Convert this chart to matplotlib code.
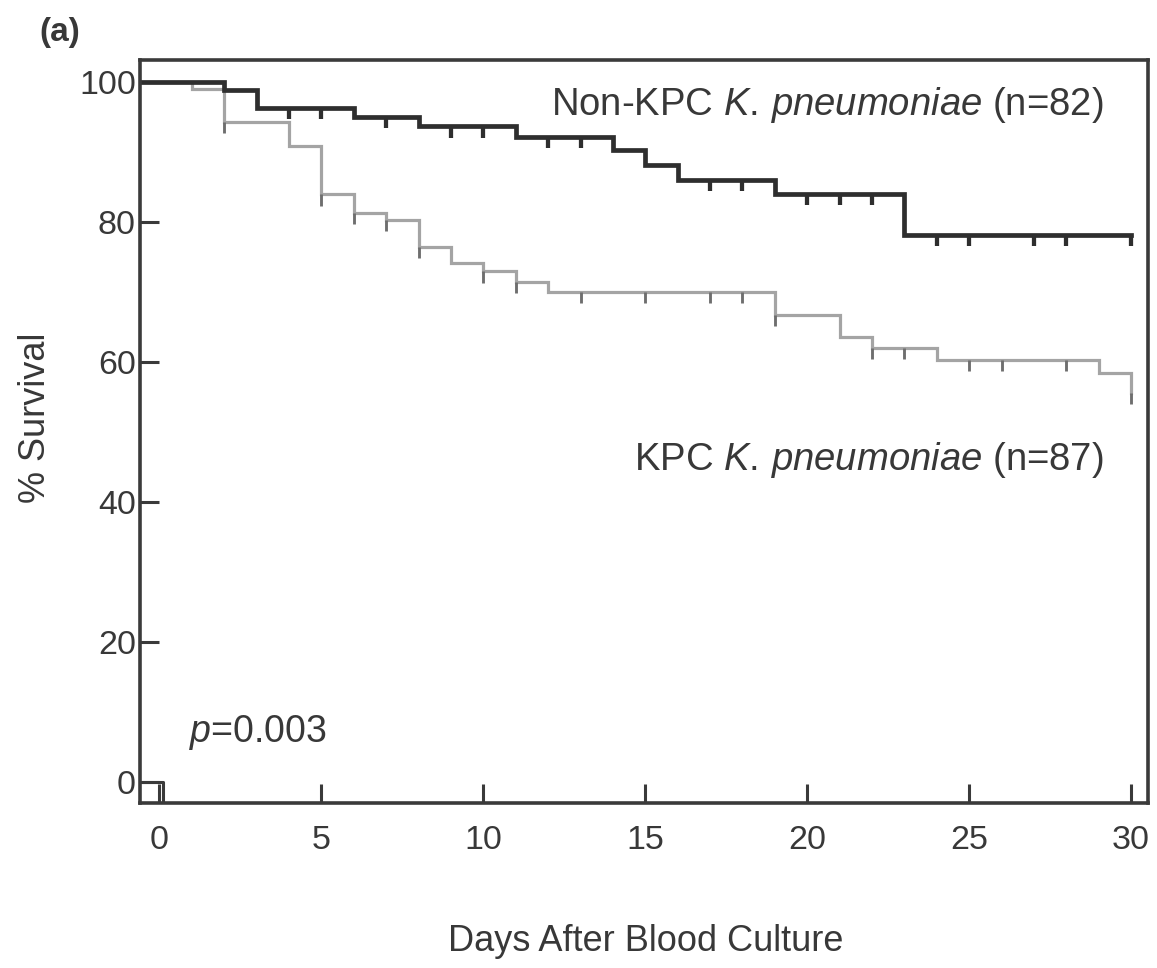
import numpy as np
import matplotlib.pyplot as plt

plt.rcParams['font.family'] = ['Liberation Sans', 'DejaVu Sans']
plt.rcParams['mathtext.fontset'] = 'custom'
plt.rcParams['mathtext.rm'] = 'Liberation Sans'
plt.rcParams['mathtext.it'] = 'Liberation Sans:italic'

# Non-KPC K. pneumoniae (n=82): step times [days] and % survival after each step
days_nonkpc = [0, 2, 3, 6, 8, 11, 14, 15, 16, 19, 23, 30]
surv_nonkpc = [100, 98.8, 96.3, 95.0, 93.6, 92.1, 90.3, 88.1, 86.0, 84.0, 78.1, 78.1]
censor_nonkpc = [4, 5, 7, 9, 10, 12, 13, 17, 18, 20, 21, 22, 24, 25, 27, 28, 30]

# KPC K. pneumoniae (n=87)
days_kpc = [0, 1, 2, 4, 5, 6, 7, 8, 9, 10, 11, 12, 19, 21, 22, 24, 29, 30]
surv_kpc = [100, 98.9, 94.3, 90.8, 83.9, 81.3, 80.3, 76.4, 74.1, 72.9, 71.4, 70.0,
            66.7, 63.6, 62.0, 60.3, 58.4, 55.6]
censor_kpc = [2, 5, 6, 7, 8, 10, 11, 13, 15, 17, 18, 19, 22, 23, 25, 26, 28, 30]

# small stray step at the origin in the original figure
stray_x = [-0.6, 0.1, 0.1]
stray_y = [0, 0, -3]

x_ticks = [0, 5, 10, 15, 20, 25, 30]
y_ticks = [0, 20, 40, 60, 80, 100]

axis_col = '#3a3a3a'
text_col = '#383838'


def km_line(ax, times, surv, censor, color, tick_color, lw):
    x0 = ax.get_xlim()[0]
    xs = np.r_[x0, times]
    ys = np.r_[surv[0], surv]
    ax.step(xs, ys, where='post', color=color, lw=lw, solid_joinstyle='miter')
    # censor marks hang down from the curve
    idx = np.searchsorted(times, censor, side='right') - 1
    lv = np.asarray(surv)[idx]
    ax.vlines(censor, lv - 1.6, lv, color=tick_color, lw=lw * 0.9)


fig = plt.figure(figsize=(11.57, 9.68), dpi=100)
ax = fig.add_axes([0.121, 0.1705, 0.8712, 0.7676])
ax.set_xlim(-0.6, 30.52)
ax.set_ylim(-3.0, 103.1)

km_line(ax, days_kpc, surv_kpc, censor_kpc, '#a4a4a4', '#6e6e6e', 2.3)
km_line(ax, days_nonkpc, surv_nonkpc, censor_nonkpc, '#2e2e2e', '#2e2e2e', 3.4)
ax.plot(stray_x, stray_y, color=axis_col, lw=2.2)

for s in ax.spines.values():
    s.set_linewidth(2.6)
    s.set_color(axis_col)

ax.set_xticks(x_ticks)
ax.set_yticks(y_ticks)
ax.tick_params(direction='in', length=14, width=2.2, color=axis_col,
               labelsize=24.5, labelcolor=text_col)
ax.tick_params(axis='x', pad=16)
ax.tick_params(axis='y', pad=3)

ax.text(29.15, 96.7, r'Non-KPC $\mathit{K.\,pneumoniae}$ (n=82)', fontsize=27.5,
        color=text_col, ha='right', va='center')
ax.text(29.15, 46.0, r'KPC $\mathit{K.\,pneumoniae}$ (n=87)', fontsize=27.5,
        color=text_col, ha='right', va='center')
ax.text(0.9, 7.0, r'$\mathit{p}$=0.003', fontsize=27, color=text_col,
        ha='left', va='center')

ax.set_xlabel('Days After Blood Culture', fontsize=26, color=text_col, va='center')
ax.set_ylabel('% Survival', fontsize=26, color=text_col, va='center')
ax.xaxis.set_label_coords(0.502, -0.187)
ax.yaxis.set_label_coords(-0.104, 0.518)

fig.text(0.052, 0.966, '(a)', fontsize=24, fontweight='bold', color=text_col,
         ha='center', va='center')

fig.savefig('out.png', dpi=100)
